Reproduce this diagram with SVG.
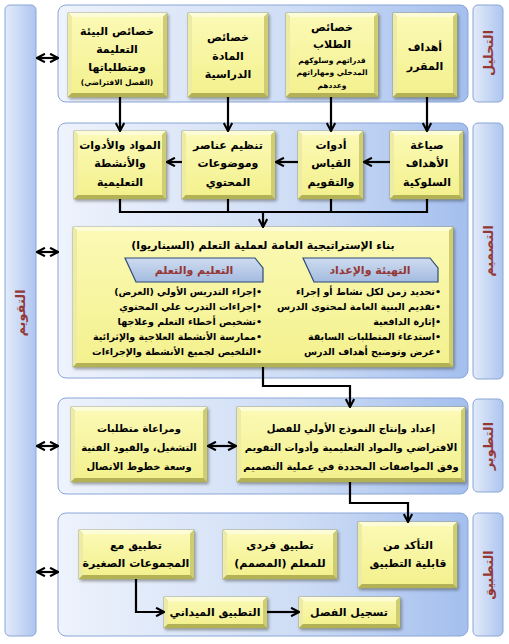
<svg xmlns="http://www.w3.org/2000/svg" width="509" height="644" viewBox="0 0 509 644">
<defs>
<linearGradient id="gPanel" x1="0" y1="0" x2="1" y2="0">
<stop offset="0" stop-color="#eef3fc"/><stop offset="0.6" stop-color="#cddcf5"/><stop offset="1" stop-color="#a4bfee"/>
</linearGradient>
<linearGradient id="gSide" x1="0" y1="0" x2="1" y2="0">
<stop offset="0" stop-color="#e3ebfa"/><stop offset="1" stop-color="#adc5ef"/>
</linearGradient>
<linearGradient id="gFace" x1="0" y1="0" x2="0" y2="1">
<stop offset="0" stop-color="#fbf9b4"/><stop offset="1" stop-color="#f3f18e"/>
</linearGradient>
<linearGradient id="gHead" x1="0" y1="0" x2="0" y2="1">
<stop offset="0" stop-color="#cfdcf0"/><stop offset="1" stop-color="#a3bbe0"/>
</linearGradient>
<filter id="sh" x="-10%" y="-10%" width="130%" height="140%">
<feDropShadow dx="1.5" dy="2" stdDeviation="1.5" flood-color="#000" flood-opacity="0.35"/>
</filter>
<marker id="arr" viewBox="0 0 10 10" refX="9" refY="5" markerWidth="4.8" markerHeight="4.8" orient="auto-start-reverse" markerUnits="strokeWidth">
<path d="M1.5,1 L9,5 L1.5,9" fill="none" stroke="#000" stroke-width="2" stroke-linejoin="miter"/>
</marker>
</defs>
<style>
.panel{fill:url(#gPanel);stroke:#8aa5d6;stroke-width:1}
.side{fill:url(#gSide);stroke:#8aa5d6;stroke-width:1}
.slab{font-family:"DejaVu Sans",sans-serif;font-weight:bold;font-size:13px;fill:#953735;text-anchor:middle}
.frame{fill:#b5b35a;stroke:#8a8842;stroke-width:0.6}
.bt{fill:#fcfcd6}.bl{fill:#eeeca4}.br{fill:#cfcd72}.bb{fill:#b3b156}
.face{fill:url(#gFace)}
.t{font-family:"DejaVu Sans",sans-serif;font-weight:bold;font-size:11px;fill:#000;text-anchor:middle}
.tm{font-family:"DejaVu Sans",sans-serif;font-weight:bold;font-size:10px;fill:#000;text-anchor:middle}
.ts{font-family:"DejaVu Sans",sans-serif;font-weight:bold;font-size:7.5px;fill:#000;text-anchor:middle}
.tb{font-family:"DejaVu Sans",sans-serif;font-weight:bold;font-size:9.5px;fill:#000;text-anchor:start}
.head{fill:url(#gHead);stroke:#2b4b78;stroke-width:1.2}
.ht{font-family:"DejaVu Sans",sans-serif;font-weight:bold;font-size:11px;fill:#953735;text-anchor:middle}
.c{fill:none;stroke:#000;stroke-width:2.2}
</style>

<!-- side labels -->
<g id="evaluation-bar">
<rect class="side" x="5" y="5" width="31" height="631" rx="5"/>
<text class="slab" transform="translate(25,313) rotate(-90)" direction="rtl">التقويم</text>
</g>
<g id="analysis-label">
<rect class="side" x="473" y="5" width="30" height="97" rx="5"/>
<text class="slab" transform="translate(493,53) rotate(-90)" direction="rtl">التحليل</text>
</g>
<g id="design-label">
<rect class="side" x="473" y="123" width="30" height="256" rx="5"/>
<text class="slab" transform="translate(493,251) rotate(-90)" direction="rtl">التصميم</text>
</g>
<g id="development-label">
<rect class="side" x="473" y="399" width="30" height="93" rx="5"/>
<text class="slab" transform="translate(493,446) rotate(-90)" direction="rtl">التطوير</text>
</g>
<g id="application-label">
<rect class="side" x="473" y="513" width="30" height="123" rx="5"/>
<text class="slab" transform="translate(493,575) rotate(-90)" direction="rtl">التطبيق</text>
</g>

<!-- panels -->
<g id="analysis-panel"><rect class="panel" x="58" y="5" width="410" height="97" rx="8"/></g>
<g id="design-panel"><rect class="panel" x="58" y="123" width="410" height="255" rx="8"/></g>
<g id="development-panel"><rect class="panel" x="58" y="398" width="410" height="96" rx="8"/></g>
<g id="application-panel"><rect class="panel" x="58" y="513" width="410" height="123" rx="8"/></g>

<!-- Analysis boxes -->
<g id="a1" filter="url(#sh)">
<rect class="frame" x="68" y="13" width="99" height="84"/>
<polygon class="bt" points="68,13 167,13 163,17 72,17"/><polygon class="bl" points="68,13 72,17 72,93 68,97"/>
<polygon class="br" points="167,13 167,97 163,93 163,17"/><polygon class="bb" points="68,97 72,93 163,93 167,97"/>
<rect class="face" x="72" y="17" width="91" height="76"/>
</g>
<g id="a1-text">
<text class="t" x="117" y="35" direction="rtl">خصائص البيئة</text>
<text class="t" x="117" y="53" direction="rtl">التعليمة</text>
<text class="t" x="117" y="71" direction="rtl">ومتطلباتها</text>
<text class="ts" x="117" y="85" direction="rtl">(الفصل الافتراضي)</text>
</g>
<g id="a2" filter="url(#sh)">
<rect class="frame" x="188" y="13" width="80" height="84"/>
<polygon class="bt" points="188,13 268,13 264,17 192,17"/><polygon class="bl" points="188,13 192,17 192,93 188,97"/>
<polygon class="br" points="268,13 268,97 264,93 264,17"/><polygon class="bb" points="188,97 192,93 264,93 268,97"/>
<rect class="face" x="192" y="17" width="72" height="76"/>
</g>
<g id="a2-text">
<text class="t" x="228" y="41" direction="rtl">خصائص</text>
<text class="t" x="228" y="60" direction="rtl">المادة</text>
<text class="t" x="228" y="78" direction="rtl">الدراسية</text>
</g>
<g id="a3" filter="url(#sh)">
<rect class="frame" x="286" y="13" width="92" height="84"/>
<polygon class="bt" points="286,13 378,13 374,17 290,17"/><polygon class="bl" points="286,13 290,17 290,93 286,97"/>
<polygon class="br" points="378,13 378,97 374,93 374,17"/><polygon class="bb" points="286,97 290,93 374,93 378,97"/>
<rect class="face" x="290" y="17" width="84" height="76"/>
</g>
<g id="a3-text">
<text class="t" x="332" y="31" direction="rtl">خصائص</text>
<text class="t" x="332" y="48" direction="rtl">الطلاب</text>
<text class="ts" x="332" y="63" direction="rtl">قدراتهم وسلوكهم</text>
<text class="ts" x="332" y="75" direction="rtl">المدخلي ومهاراتهم</text>
<text class="ts" x="332" y="88" direction="rtl">وعددهم</text>
</g>
<g id="a4" filter="url(#sh)">
<rect class="frame" x="393" y="13" width="64" height="84"/>
<polygon class="bt" points="393,13 457,13 453,17 397,17"/><polygon class="bl" points="393,13 397,17 397,93 393,97"/>
<polygon class="br" points="457,13 457,97 453,93 453,17"/><polygon class="bb" points="393,97 397,93 453,93 457,97"/>
<rect class="face" x="397" y="17" width="56" height="76"/>
</g>
<g id="a4-text">
<text class="t" x="425" y="51" direction="rtl">أهداف</text>
<text class="t" x="425" y="70" direction="rtl">المقرر</text>
</g>

<!-- Design boxes -->
<g id="d1" filter="url(#sh)">
<rect class="frame" x="74" y="131" width="92" height="68"/>
<polygon class="bt" points="74,131 166,131 162,135 78,135"/><polygon class="bl" points="74,131 78,135 78,195 74,199"/>
<polygon class="br" points="166,131 166,199 162,195 162,135"/><polygon class="bb" points="74,199 78,195 162,195 166,199"/>
<rect class="face" x="78" y="135" width="84" height="60"/>
</g>
<g id="d1-text">
<text class="t" x="120" y="149" direction="rtl">المواد والأدوات</text>
<text class="t" x="120" y="167" direction="rtl">والأنشطة</text>
<text class="t" x="120" y="186" direction="rtl">التعليمية</text>
</g>
<g id="d2" filter="url(#sh)">
<rect class="frame" x="182" y="131" width="93" height="68"/>
<polygon class="bt" points="182,131 275,131 271,135 186,135"/><polygon class="bl" points="182,131 186,135 186,195 182,199"/>
<polygon class="br" points="275,131 275,199 271,195 271,135"/><polygon class="bb" points="182,199 186,195 271,195 275,199"/>
<rect class="face" x="186" y="135" width="85" height="60"/>
</g>
<g id="d2-text">
<text class="t" x="228" y="149" direction="rtl">تنظيم عناصر</text>
<text class="t" x="228" y="167" direction="rtl">وموضوعات</text>
<text class="t" x="228" y="186" direction="rtl">المحتوي</text>
</g>
<g id="d3" filter="url(#sh)">
<rect class="frame" x="298" y="131" width="65" height="68"/>
<polygon class="bt" points="298,131 363,131 359,135 302,135"/><polygon class="bl" points="298,131 302,135 302,195 298,199"/>
<polygon class="br" points="363,131 363,199 359,195 359,135"/><polygon class="bb" points="298,199 302,195 359,195 363,199"/>
<rect class="face" x="302" y="135" width="57" height="60"/>
</g>
<g id="d3-text">
<text class="t" x="331" y="149" direction="rtl">أدوات</text>
<text class="t" x="331" y="167" direction="rtl">القياس</text>
<text class="t" x="331" y="186" direction="rtl">والتقويم</text>
</g>
<g id="d4" filter="url(#sh)">
<rect class="frame" x="390" y="131" width="73" height="68"/>
<polygon class="bt" points="390,131 463,131 459,135 394,135"/><polygon class="bl" points="390,131 394,135 394,195 390,199"/>
<polygon class="br" points="463,131 463,199 459,195 459,135"/><polygon class="bb" points="390,199 394,195 459,195 463,199"/>
<rect class="face" x="394" y="135" width="65" height="60"/>
</g>
<g id="d4-text">
<text class="t" x="427" y="149" direction="rtl">صياغة</text>
<text class="t" x="427" y="167" direction="rtl">الأهداف</text>
<text class="t" x="427" y="186" direction="rtl">السلوكية</text>
</g>

<!-- Scenario box -->
<g id="scenario" filter="url(#sh)">
<rect class="frame" x="73" y="227" width="380" height="140"/>
<polygon class="bt" points="73,227 453,227 449,231 77,231"/><polygon class="bl" points="73,227 77,231 77,363 73,367"/>
<polygon class="br" points="453,227 453,367 449,363 449,231"/><polygon class="bb" points="73,367 77,363 449,363 453,367"/>
<rect class="face" x="77" y="231" width="372" height="132"/>
</g>
<g id="scenario-text">
<text class="t" x="263" y="249" direction="rtl">بناء الإستراتيجية العامة لعملية التعلم (السيناريوا)</text>
</g>
<g id="head-teaching">
<polygon class="head" points="125,258 255,258 263,268 263,282 136,282"/>
<text class="ht" x="194" y="274" direction="rtl">التعليم والتعلم</text>
</g>
<g id="head-prep">
<polygon class="head" points="303,258 430,258 438,268 438,282 314,282"/>
<text class="ht" x="370" y="274" direction="rtl">التهيئة والإعداد</text>
</g>
<g id="list-teaching">
<text class="tb" x="262" y="295" direction="rtl">•إجراء التدريس الأولي (العرض)</text>
<text class="tb" x="262" y="310" direction="rtl">•إجراءات التدرب علي المحتوي</text>
<text class="tb" x="262" y="325" direction="rtl">•تشخيص أخطاء التعلم وعلاجها</text>
<text class="tb" x="262" y="340" direction="rtl">•ممارسة الأنشطة العلاجية والإثرائية</text>
<text class="tb" x="262" y="355" direction="rtl">•التلخيص لجميع الأنشطة والإجراءات</text>
</g>
<g id="list-prep">
<text class="tb" x="441" y="295" direction="rtl">•تحديد زمن لكل نشاط أو إجراء</text>
<text class="tb" x="441" y="310" direction="rtl">•تقديم البنية العامة لمحتوى الدرس</text>
<text class="tb" x="441" y="325" direction="rtl">•إثارة الدافعية</text>
<text class="tb" x="441" y="340" direction="rtl">•استدعاء المتطلبات السابقة</text>
<text class="tb" x="441" y="355" direction="rtl">•عرض وتوضيح أهداف الدرس</text>
</g>

<!-- Development boxes -->
<g id="v1" filter="url(#sh)">
<rect class="frame" x="237" y="407" width="228" height="75"/>
<polygon class="bt" points="237,407 465,407 461,411 241,411"/><polygon class="bl" points="237,407 241,411 241,478 237,482"/>
<polygon class="br" points="465,407 465,482 461,478 461,411"/><polygon class="bb" points="237,482 241,478 461,478 465,482"/>
<rect class="face" x="241" y="411" width="220" height="67"/>
</g>
<g id="v1-text">
<text class="tm" x="351" y="432" direction="rtl">إعداد وإنتاج النموذج الأولي للفصل</text>
<text class="tm" x="351" y="451" direction="rtl">الافتراضي والمواد التعليمية وأدوات التقويم</text>
<text class="tm" x="351" y="470" direction="rtl">وفق المواصفات المحددة في عملية التصميم</text>
</g>
<g id="v2" filter="url(#sh)">
<rect class="frame" x="71" y="407" width="136" height="75"/>
<polygon class="bt" points="71,407 207,407 203,411 75,411"/><polygon class="bl" points="71,407 75,411 75,478 71,482"/>
<polygon class="br" points="207,407 207,482 203,478 203,411"/><polygon class="bb" points="71,482 75,478 203,478 207,482"/>
<rect class="face" x="75" y="411" width="128" height="67"/>
</g>
<g id="v2-text">
<text class="tm" x="139" y="432" direction="rtl">ومراعاة متطلبات</text>
<text class="tm" x="139" y="451" direction="rtl">التشغيل، والقيود الفنية</text>
<text class="tm" x="139" y="470" direction="rtl">وسعة خطوط الاتصال</text>
</g>

<!-- Application boxes -->
<g id="p1" filter="url(#sh)">
<rect class="frame" x="358" y="522" width="99" height="66"/>
<polygon class="bt" points="358,522 457,522 453,526 362,526"/><polygon class="bl" points="358,522 362,526 362,584 358,588"/>
<polygon class="br" points="457,522 457,588 453,584 453,526"/><polygon class="bb" points="358,588 362,584 453,584 457,588"/>
<rect class="face" x="362" y="526" width="91" height="58"/>
</g>
<g id="p1-text">
<text class="t" x="408" y="549" direction="rtl">التأكد من</text>
<text class="t" x="408" y="567" direction="rtl">قابلية التطبيق</text>
</g>
<g id="p2" filter="url(#sh)">
<rect class="frame" x="223" y="530" width="114" height="49"/>
<polygon class="bt" points="223,530 337,530 333,534 227,534"/><polygon class="bl" points="223,530 227,534 227,575 223,579"/>
<polygon class="br" points="337,530 337,579 333,575 333,534"/><polygon class="bb" points="223,579 227,575 333,575 337,579"/>
<rect class="face" x="227" y="534" width="106" height="41"/>
</g>
<g id="p2-text">
<text class="t" x="280" y="549" direction="rtl">تطبيق فردى</text>
<text class="t" x="280" y="567" direction="rtl">للمعلم (المصمم)</text>
</g>
<g id="p3" filter="url(#sh)">
<rect class="frame" x="79" y="530" width="115" height="49"/>
<polygon class="bt" points="79,530 194,530 190,534 83,534"/><polygon class="bl" points="79,530 83,534 83,575 79,579"/>
<polygon class="br" points="194,530 194,579 190,575 190,534"/><polygon class="bb" points="79,579 83,575 190,575 194,579"/>
<rect class="face" x="83" y="534" width="107" height="41"/>
</g>
<g id="p3-text">
<text class="t" x="136" y="549" direction="rtl">تطبيق مع</text>
<text class="t" x="136" y="567" direction="rtl">المجموعات الصغيرة</text>
</g>
<g id="p4" filter="url(#sh)">
<rect class="frame" x="164" y="597" width="103" height="31"/>
<polygon class="bt" points="164,597 267,597 263,601 168,601"/><polygon class="bl" points="164,597 168,601 168,624 164,628"/>
<polygon class="br" points="267,597 267,628 263,624 263,601"/><polygon class="bb" points="164,628 168,624 263,624 267,628"/>
<rect class="face" x="168" y="601" width="95" height="23"/>
</g>
<g id="p4-text">
<text class="t" x="215" y="616" direction="rtl">التطبيق الميداني</text>
</g>
<g id="p5" filter="url(#sh)">
<rect class="frame" x="299" y="597" width="101" height="31"/>
<polygon class="bt" points="299,597 400,597 396,601 303,601"/><polygon class="bl" points="299,597 303,601 303,624 299,628"/>
<polygon class="br" points="400,597 400,628 396,624 396,601"/><polygon class="bb" points="299,628 303,624 396,624 400,628"/>
<rect class="face" x="303" y="601" width="93" height="23"/>
</g>
<g id="p5-text">
<text class="t" x="349" y="616" direction="rtl">تسجيل الفصل</text>
</g>

<!-- connectors -->
<g id="connectors">
<line class="c" x1="120" y1="97" x2="120" y2="131" marker-end="url(#arr)"/>
<line class="c" x1="228" y1="97" x2="228" y2="131" marker-end="url(#arr)"/>
<line class="c" x1="331" y1="97" x2="331" y2="131" marker-end="url(#arr)"/>
<line class="c" x1="427" y1="97" x2="427" y2="131" marker-end="url(#arr)"/>
<line class="c" x1="390" y1="162" x2="364" y2="162" marker-end="url(#arr)"/>
<line class="c" x1="298" y1="162" x2="276" y2="162" marker-end="url(#arr)"/>
<line class="c" x1="182" y1="162" x2="167" y2="162" marker-end="url(#arr)"/>
<polyline class="c" points="120,199 120,212 427,212 427,199"/>
<line class="c" x1="228" y1="199" x2="228" y2="212"/>
<line class="c" x1="331" y1="199" x2="331" y2="212"/>
<line class="c" x1="263" y1="211" x2="263" y2="227" marker-end="url(#arr)"/>
<polyline class="c" points="263,367 263,386 350,386 350,407" marker-end="url(#arr)"/>
<line class="c" x1="208" y1="446" x2="236" y2="446" marker-start="url(#arr)" marker-end="url(#arr)"/>
<polyline class="c" points="350,482 350,503 408,503 408,522" marker-end="url(#arr)"/>
<polyline class="c" points="136,579 136,612 164,612" marker-end="url(#arr)"/>
<line class="c" x1="267" y1="612" x2="299" y2="612" marker-end="url(#arr)"/>
<line class="c" x1="37" y1="58" x2="58" y2="58" marker-start="url(#arr)" marker-end="url(#arr)"/>
<line class="c" x1="37" y1="252" x2="58" y2="252" marker-start="url(#arr)" marker-end="url(#arr)"/>
<line class="c" x1="37" y1="446" x2="58" y2="446" marker-start="url(#arr)" marker-end="url(#arr)"/>
<line class="c" x1="37" y1="572" x2="58" y2="572" marker-start="url(#arr)" marker-end="url(#arr)"/>
</g>
</svg>
